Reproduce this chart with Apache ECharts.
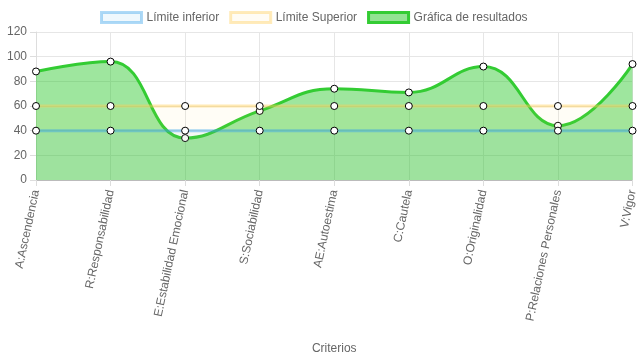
<!DOCTYPE html>
<html><head><meta charset="utf-8">
<script src="https://cdn.jsdelivr.net/npm/echarts@6/dist/echarts.min.js"></script>
<style>html,body{margin:0;padding:0;background:#fff}#c{width:639px;height:360px}</style>
</head><body><div id="c"></div>
<script>
const categories = ["A:Ascendencia","R:Responsabilidad","E:Estabilidad Emocional","S:Sociabilidad","AE:Autoestima","C:Cautela","O:Originalidad","P:Relaciones Personales","V:Vigor"];
const limiteInferior = [40,40,40,40,40,40,40,40,40];
const limiteSuperior = [60,60,60,60,60,60,60,60,60];
const resultados = [88,96,34,56,74,71,92,44,94];
const yTicks = {min:0,max:120,interval:20};

const chart = echarts.init(document.getElementById('c'));
const font = 'Helvetica Neue, Helvetica, Arial, Liberation Sans, sans-serif';
function mk(name, data, line, fill, z){
  return {name, type:'line', data, smooth:0.45, z,
    symbol:'circle', symbolSize:7,
    itemStyle:{color:'#fff', borderColor:'#000', borderWidth:1},
    lineStyle:{color:line, width:3},
    areaStyle:{color:fill, opacity:1, origin:'start'},
    emphasis:{disabled:true}};
}
chart.setOption({
  animation:false,
  textStyle:{fontFamily:font},
  legend:{top:6, left:95, itemWidth:40, itemHeight:10, itemGap:10,
    textStyle:{color:'#666', fontSize:12, fontFamily:font},
    data:[
      {name:'Límite inferior', icon:'rect', itemStyle:{color:'rgba(54,162,235,0.08)', borderColor:'rgba(54,162,235,0.4)', borderWidth:3}},
      {name:'Límite Superior', icon:'rect', itemStyle:{color:'rgba(255,206,86,0.06)', borderColor:'rgba(255,206,86,0.4)', borderWidth:3}},
      {name:'Gráfica de resultados', icon:'rect', itemStyle:{color:'rgba(40,200,40,0.5)', borderColor:'#33cc33', borderWidth:3}}
    ]},
  grid:{left:36, right:4, top:32, bottom:180, containLabel:false},
  xAxis:{type:'category', data:categories, boundaryGap:false,
    name:'Criterios', nameLocation:'middle', nameGap:163,
    nameTextStyle:{color:'#666', fontSize:12},
    axisLine:{lineStyle:{color:'#bbb'}},
    axisTick:{show:true, length:6, lineStyle:{color:'#ddd'}},
    axisLabel:{rotate:78, color:'#666', fontSize:12, margin:10, interval:0},
    splitLine:{show:true, lineStyle:{color:'#e6e6e6'}}},
  yAxis:{type:'value', min:yTicks.min, max:yTicks.max, interval:yTicks.interval,
    axisLine:{show:true, lineStyle:{color:'#ddd'}},
    axisTick:{show:true, length:6, lineStyle:{color:'#ddd'}},
    axisLabel:{color:'#666', fontSize:12, margin:9},
    splitLine:{lineStyle:{color:'#e6e6e6'}}},
  series:[
    mk('Límite inferior', limiteInferior, 'rgba(54,162,235,0.45)', 'rgba(54,162,235,0.05)', 3),
    mk('Límite Superior', limiteSuperior, 'rgba(255,206,86,0.45)', 'rgba(255,206,86,0.05)', 2),
    mk('Gráfica de resultados', resultados, '#33cc33', 'rgba(40,200,40,0.45)', 1)
  ]
});
</script></body></html>
